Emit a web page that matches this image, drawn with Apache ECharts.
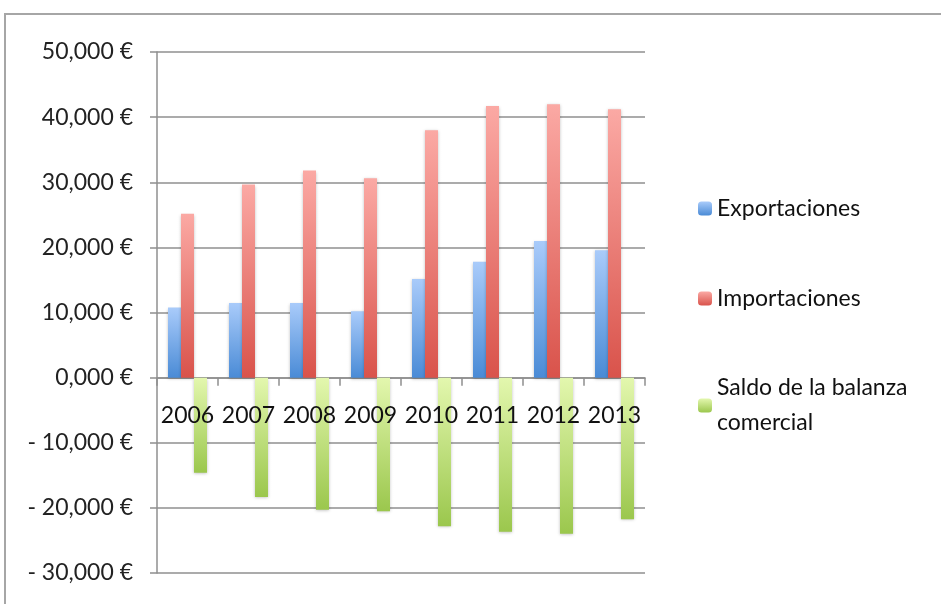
<!DOCTYPE html>
<html>
<head>
<meta charset="utf-8">
<style>
  html, body { margin: 0; padding: 0; background: #fff; }
  #chart { width: 941px; height: 604px; }
</style>
<script src="https://cdn.jsdelivr.net/npm/echarts@6/dist/echarts.min.js"></script>
</head>
<body>
<div id="chart"></div>
<script>
// Comercio exterior, miles de euros
const years = ['2006', '2007', '2008', '2009', '2010', '2011', '2012', '2013'];
const exportaciones = [10.75, 11.46, 11.46, 10.18, 15.14, 17.81, 20.98, 19.55];
const importaciones = [25.18, 29.64, 31.79, 30.6, 37.98, 41.71, 41.97, 41.2];
const saldo = [-14.6, -18.33, -20.27, -20.53, -22.83, -23.65, -23.96, -21.76];
const seriesNames = ['Exportaciones', 'Importaciones', 'Saldo de la balanza comercial'];

const FONT = 'Lato';
const FS = 23;

function grad(top, bottom) {
  return new echarts.graphic.LinearGradient(0, 0, 0, 1, [
    { offset: 0, color: top },
    { offset: 1, color: bottom }
  ]);
}

function euro(v) {
  const s = Math.abs(v).toFixed(3).replace('.', ',');
  return (v < 0 ? '- ' : '') + s + ' €';
}

const barBase = {
  type: 'bar',
  barWidth: 13,
  barGap: '0%',
  animation: false
};

const axisGray = { color: '#8f8f8f', width: 1.5 };

const chart = echarts.init(document.getElementById('chart'));
chart.setOption({
  backgroundColor: '#fff',
  textStyle: { fontFamily: FONT },
  graphic: [{
    type: 'rect',
    shape: { x: 5, y: 14, width: 1000, height: 700 },
    style: { fill: 'none', stroke: '#a6a6a6', lineWidth: 2 },
    silent: true
  }],
  grid: { left: 157, right: 296, top: 52, bottom: 31, outerBoundsMode: 'none', containLabel: false },
  legend: [
    {
      left: 693, top: 192, orient: 'vertical',
      data: [seriesNames[0]],
      itemWidth: 14, itemHeight: 14,
      textStyle: { fontSize: FS, color: '#111', fontFamily: FONT }
    },
    {
      left: 693, top: 282, orient: 'vertical',
      data: [seriesNames[1]],
      itemWidth: 14, itemHeight: 14,
      textStyle: { fontSize: FS, color: '#111', fontFamily: FONT }
    },
    {
      left: 693, top: 348, orient: 'vertical',
      data: [seriesNames[2]],
      itemWidth: 14, itemHeight: 14,
      formatter: () => 'Saldo de la balanza\ncomercial',
      textStyle: {
        fontSize: FS, color: '#111', fontFamily: FONT,
        lineHeight: 35, padding: [35, 0, 0, 0]
      }
    }
  ],
  xAxis: [
    {
      // baseline axis through zero, with boundary ticks
      type: 'category',
      data: years,
      axisLine: { onZero: true, lineStyle: axisGray },
      axisTick: { show: true, length: 8, lineStyle: axisGray },
      axisLabel: { show: false }
    },
    {
      // year labels sitting just under the zero line
      type: 'category',
      data: years,
      position: 'bottom',
      offset: -195,
      z: 10,
      axisLine: { show: false },
      axisTick: { show: false },
      splitLine: { show: false },
      axisLabel: { fontSize: FS, color: '#111', margin: 26, fontFamily: FONT, interval: 0 }
    }
  ],
  yAxis: {
    type: 'value',
    min: -30, max: 50, interval: 10,
    axisLine: { show: true, lineStyle: axisGray },
    axisTick: { show: true, length: 7, lineStyle: axisGray },
    splitLine: { lineStyle: axisGray },
    axisLabel: { fontSize: FS, color: '#222', margin: 24, fontFamily: FONT, formatter: euro }
  },
  series: [
    Object.assign({}, barBase, {
      name: seriesNames[0],
      data: exportaciones,
      itemStyle: {
        color: grad('#a9cbfa', '#4a8bd6'),
        shadowColor: 'rgba(0,0,0,0.25)', shadowBlur: 3, shadowOffsetY: 1
      }
    }),
    Object.assign({}, barBase, {
      name: seriesNames[1],
      data: importaciones,
      itemStyle: {
        color: grad('#fba9a4', '#d9534b'),
        shadowColor: 'rgba(0,0,0,0.25)', shadowBlur: 3, shadowOffsetY: 1
      }
    }),
    Object.assign({}, barBase, {
      name: seriesNames[2],
      data: saldo,
      itemStyle: {
        color: grad('#e3f7ae', '#9bc74d'),
        shadowColor: 'rgba(0,0,0,0.25)', shadowBlur: 3, shadowOffsetY: 1
      }
    })
  ]
});
</script>
</body>
</html>
